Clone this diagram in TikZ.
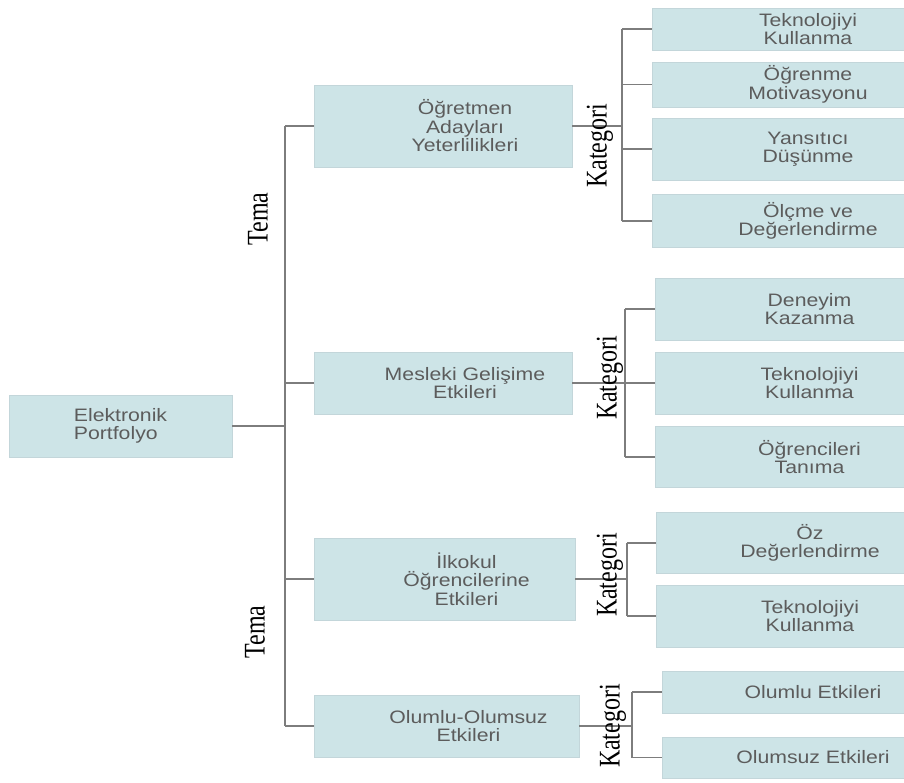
\documentclass[tikz,border=0pt]{standalone}
\usepackage{fontspec}
\newfontfamily\boxfont[FakeStretch=1.18]{Liberation Sans}
\newfontfamily\lblfont[FakeStretch=0.8]{Liberation Serif}
\definecolor{boxfill}{RGB}{205,228,231}
\definecolor{boxedge}{RGB}{195,214,218}
\definecolor{txt}{RGB}{92,92,92}
\definecolor{linec}{RGB}{125,125,125}
\tikzset{
  box/.style={rectangle, fill=boxfill, draw=boxedge, line width=0.6pt, inner sep=0pt,
    text=txt, align=center, font=\boxfont\fontsize{18}{18.5}\selectfont},
  boxtext/.style={text=txt, align=center, font=\boxfont\fontsize{18}{18.5}\selectfont, inner sep=0pt},
  conn/.style={draw=linec, line width=1.4pt},
  axislbl/.style={rotate=90, font=\lblfont\fontsize{30}{30}\selectfont, text=black, inner sep=0pt}
}
\begin{document}
\begin{tikzpicture}[x=1pt, y=-1pt]
\useasboundingbox (0,0) rectangle (904,783);
\clip (0,0) rectangle (904,783);
\fill[white] (0,0) rectangle (904,783);

% root
\node[box, minimum width=223pt, minimum height=62pt, align=left] (root) at (120.5,426) {Elektronik\\Portfolyo};

% themes
\node[box, minimum width=258pt, minimum height=82pt,
  label={[boxtext, xshift=22pt]center:{Öğretmen\\Adayları\\Yeterlilikleri}}] (t1) at (443,126) {};
\node[box, minimum width=258pt, minimum height=62pt,
  label={[boxtext, xshift=22pt]center:{Mesleki Gelişime\\Etkileri}}] (t2) at (443,383) {};
\node[box, minimum width=261pt, minimum height=82pt,
  label={[boxtext, xshift=22pt]center:{İlkokul\\Öğrencilerine\\Etkileri}}] (t3) at (444.5,579) {};
\node[box, minimum width=265pt, minimum height=62pt,
  label={[boxtext, xshift=22pt]center:{Olumlu-Olumsuz\\Etkileri}}] (t4) at (446.5,726) {};

% leaves of group 1
\node[box, minimum width=312pt, minimum height=42pt] (a1) at (808,29) {Teknolojiyi\\Kullanma};
\node[box, minimum width=312pt, minimum height=45pt] (a2) at (808,84.5) {Öğrenme\\Motivasyonu};
\node[box, minimum width=312pt, minimum height=62pt] (a3) at (808,149) {Yansıtıcı\\Düşünme};
\node[box, minimum width=312pt, minimum height=53pt] (a4) at (808,221) {Ölçme ve\\Değerlendirme};

% leaves of group 2
\node[box, minimum width=309pt, minimum height=62pt] (b1) at (809.5,309) {Deneyim\\Kazanma};
\node[box, minimum width=309pt, minimum height=62pt] (b2) at (809.5,383) {Teknolojiyi\\Kullanma};
\node[box, minimum width=309pt, minimum height=61pt] (b3) at (809.5,457) {Öğrencileri\\Tanıma};

% leaves of group 3
\node[box, minimum width=308pt, minimum height=61pt] (c1) at (810,543) {Öz\\Değerlendirme};
\node[box, minimum width=308pt, minimum height=62pt] (c2) at (810,616) {Teknolojiyi\\Kullanma};

% leaves of group 4
\node[box, minimum width=302pt, minimum height=42pt] (d1) at (813,692) {Olumlu Etkileri};
\node[box, minimum width=302pt, minimum height=41pt] (d2) at (813,757.5) {Olumsuz Etkileri};

% bracket columns
\coordinate (tk) at (285,0);
\coordinate (ka) at (622,0);
\coordinate (kb) at (625,0);
\coordinate (kc) at (627,0);
\coordinate (kd) at (632,0);

% trunk
\draw[conn] (root.east) -- (root.east -| tk);
\draw[conn] (t1.west -| tk) -- (t4.west -| tk);
\foreach \t in {t1,t2,t3,t4} \draw[conn] (\t.west -| tk) -- (\t.west);

% group brackets
\draw[conn] (t1.east) -- (t1.east -| ka);
\draw[conn] (a1.west -| ka) -- (a4.west -| ka);
\foreach \l in {a1,a2,a3,a4} \draw[conn] (\l.west -| ka) -- (\l.west);

\draw[conn] (t2.east) -- (t2.east -| kb);
\draw[conn] (b1.west -| kb) -- (b3.west -| kb);
\foreach \l in {b1,b2,b3} \draw[conn] (\l.west -| kb) -- (\l.west);

\draw[conn] (t3.east) -- (t3.east -| kc);
\draw[conn] (c1.west -| kc) -- (c2.west -| kc);
\foreach \l in {c1,c2} \draw[conn] (\l.west -| kc) -- (\l.west);

\draw[conn] (t4.east) -- (t4.east -| kd);
\draw[conn] (d1.west -| kd) -- (d2.west -| kd);
\foreach \l in {d1,d2} \draw[conn] (\l.west -| kd) -- (\l.west);

% rotated labels
\node[axislbl] (tema1) at (258,219) {Tema};
\node[axislbl] (tema2) at (255,632) {Tema};
\node[axislbl] (kat1) at (600,146) {Kategori};
\node[axislbl] (kat2) at (610,378) {Kategori};
\node[axislbl] (kat3) at (610,575) {Kategori};
\node[axislbl] (kat4) at (613,726) {Kategori};
\end{tikzpicture}
\end{document}
